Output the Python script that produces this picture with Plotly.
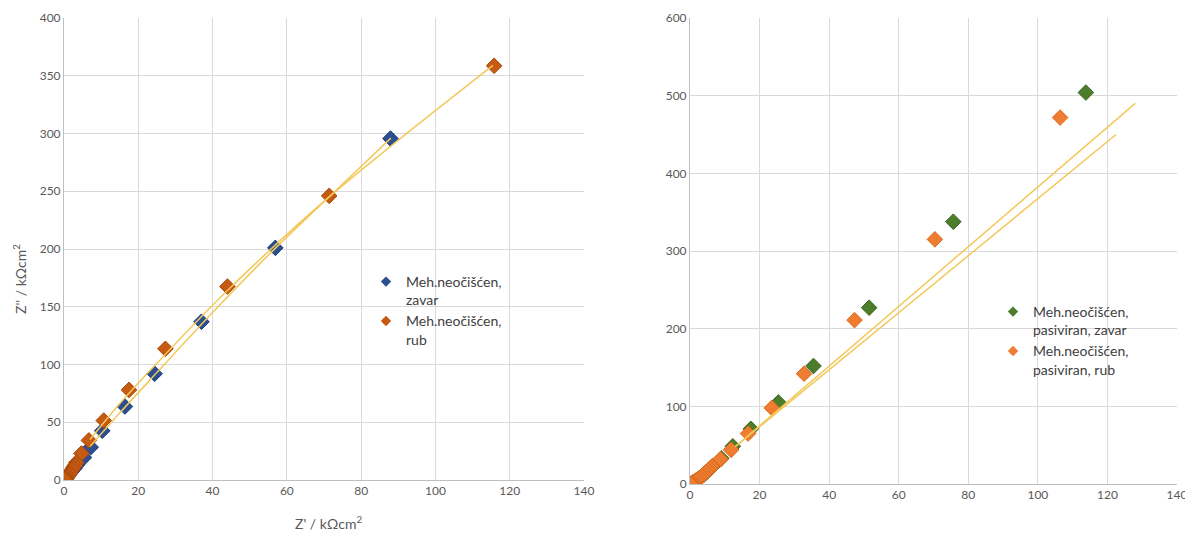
import plotly.graph_objects as go

# ---------------- data (left chart) ----------------
left_zavar_x = [87.9, 56.9, 37.0, 24.4, 16.4, 10.3, 7.2, 5.4, 3.5, 2.8, 2.2, 1.7, 1.3, 1.0, 0.7, 0.5, 0.3, 0.2]
left_zavar_y = [295.6, 201, 137, 92, 63.6, 42.6, 28.4, 19.5, 13, 10, 8, 6, 4.5, 3, 2, 1.2, 0.5, 0.2]
left_rub_x = [115.8, 71.4, 44.0, 27.3, 17.5, 10.7, 6.7, 4.7, 3.3, 2.9, 2.5, 2.1, 1.7, 1.4, 1.1, 0.8, 0.6, 0.4, 0.2]
left_rub_y = [358.6, 246, 167.5, 113.6, 78, 51.5, 34.3, 23, 15, 12.5, 10.5, 8.5, 6.5, 5, 3.5, 2.3, 1.4, 0.7, 0.2]
# trend lines
left_trend_zavar_x = [7, 15, 25, 40, 57, 71, 88]
left_trend_zavar_y = [29, 58, 93, 145, 201, 244, 296]
left_trend_rub_x = [7, 15, 25, 44, 71, 115.5]
left_trend_rub_y = [35, 66, 101, 164, 244, 359]

# ---------------- data (right chart) ----------------
right_zavar_x = [113.8, 75.7, 51.5, 35.5, 25.4, 17.5, 12.3, 9.0, 6.5, 5.5, 4.7, 4.0, 3.3, 2.7, 2.1, 1.6, 1.2, 0.8, 0.5, 0.3]
right_zavar_y = [504, 337.7, 227, 152, 105, 71, 48.5, 33, 22.5, 18.5, 15, 12, 9.5, 7.5, 5.5, 4, 3, 2, 1, 0.4]
right_rub_x = [106.4, 70.4, 47.3, 32.8, 23.5, 16.7, 11.8, 8.8, 6.3, 5.8, 5.2, 4.6, 4.0, 3.4, 2.8, 2.2, 1.7, 1.2, 0.8, 0.5, 0.3, 0.1]
right_rub_y = [471.8, 315, 211, 142, 98, 65, 44, 32, 22.5, 20, 17.5, 15, 12.5, 10, 8, 6, 4.5, 3, 1.8, 1, 0.4, 0.1]
right_trend_a_x = [13, 128]
right_trend_a_y = [48, 490]
right_trend_b_x = [13, 122.5]
right_trend_b_y = [48, 450]

series_names = ["Meh.neočišćen,<br>zavar", "Meh.neočišćen,<br>rub",
                "Meh.neočišćen,<br>pasiviran, zavar", "Meh.neočišćen,<br>pasiviran, rub"]

x_ticks = [0, 20, 40, 60, 80, 100, 120, 140]
left_y_ticks = [0, 50, 100, 150, 200, 250, 300, 350, 400]
right_y_ticks = [0, 100, 200, 300, 400, 500, 600]

PAGE_OFFSET = 8  # default body margin of the html page
W, H = 1193 - PAGE_OFFSET, 536 - PAGE_OFFSET
FONT = "Lato"
TICK_COLOR = "#595959"
GRID = "#d9d9d9"
TREND = "#F3C85A"

colors = [("#2B4F91", "#1E3C73"), ("#C65A12", "#A8480A"), ("#4C7D2B", "#3A641E"), ("#EE7D31", "#DA6A1E")]


def px_x(p):
    return (p - PAGE_OFFSET) / W


def px_y(p):
    return 1 - (p - PAGE_OFFSET) / H


fig = go.Figure()


def add_series(xs, ys, idx, xa, ya, leg):
    fill, edge = colors[idx]
    fig.add_trace(go.Scatter(x=xs, y=ys, mode="markers", name=series_names[idx], showlegend=False,
                             marker=dict(symbol="diamond", size=12, color=fill, line=dict(color=edge, width=1)),
                             xaxis=xa, yaxis=ya))
    # legend-only entry with a small symbol, as in the reference
    fig.add_trace(go.Scatter(x=[None], y=[None], mode="markers", name=series_names[idx], legend=leg,
                             marker=dict(symbol="diamond", size=8, color=fill, line=dict(color=edge, width=0)),
                             xaxis=xa, yaxis=ya))


def add_trend(xs, ys, xa, ya, shape):
    fig.add_trace(go.Scatter(x=xs, y=ys, mode="lines", line=dict(color=TREND, width=1.5, shape=shape),
                             showlegend=False, hoverinfo="skip", xaxis=xa, yaxis=ya))


add_series(left_zavar_x, left_zavar_y, 0, "x", "y", "legend")
add_series(left_rub_x, left_rub_y, 1, "x", "y", "legend")
add_trend(left_trend_zavar_x, left_trend_zavar_y, "x", "y", "spline")
add_trend(left_trend_rub_x, left_trend_rub_y, "x", "y", "spline")

add_series(right_zavar_x, right_zavar_y, 2, "x2", "y2", "legend2")
add_series(right_rub_x, right_rub_y, 3, "x2", "y2", "legend2")
add_trend(right_trend_a_x, right_trend_a_y, "x2", "y2", "linear")
add_trend(right_trend_b_x, right_trend_b_y, "x2", "y2", "linear")

axis_common = dict(showgrid=True, gridcolor=GRID, gridwidth=1, zeroline=False, showline=True, linecolor="#bfbfbf",
                   linewidth=1, ticks="", tickfont=dict(family=FONT, size=12, color=TICK_COLOR), mirror=False,
                   automargin=False)

legend_common = dict(font=dict(family=FONT, size=14, color="#404040"), bgcolor="rgba(0,0,0,0)",
                     valign="top", itemsizing="trace", tracegroupgap=4, xanchor="left", yanchor="top",
                     itemwidth=30)

fig.update_layout(
    width=W, height=H,
    margin=dict(l=0, r=0, t=0, b=0, autoexpand=False),
    paper_bgcolor="white", plot_bgcolor="white",
    font=dict(family=FONT, color=TICK_COLOR),
    xaxis=dict(domain=[px_x(64), px_x(584)], range=[0, 140], tickvals=x_ticks, anchor="y", **axis_common),
    yaxis=dict(domain=[px_y(480), px_y(18)], range=[0, 400], tickvals=left_y_ticks, anchor="x", **axis_common),
    xaxis2=dict(domain=[px_x(690), px_x(1177)], range=[0, 140], tickvals=x_ticks, anchor="y2",
                ticklabeloverflow="allow", **axis_common),
    yaxis2=dict(domain=[px_y(484), px_y(18)], range=[0, 600], tickvals=right_y_ticks, anchor="x2", **axis_common),
    legend=dict(x=px_x(366), y=px_y(266), **legend_common),
    legend2=dict(x=px_x(993), y=px_y(296), **legend_common),
    annotations=[
        dict(text="Z' / kΩcm<sup>2</sup>", x=px_x(328), y=px_y(522), xref="paper", yref="paper", showarrow=False,
             font=dict(family=FONT, size=14, color=TICK_COLOR), xanchor="center", yanchor="middle"),
        dict(text="Z'' / kΩcm<sup>2</sup>", x=px_x(19), y=px_y(279), xref="paper", yref="paper", showarrow=False,
             textangle=-90, font=dict(family=FONT, size=14, color=TICK_COLOR), xanchor="center", yanchor="middle"),
    ],
)

fig.write_html("out.html")
